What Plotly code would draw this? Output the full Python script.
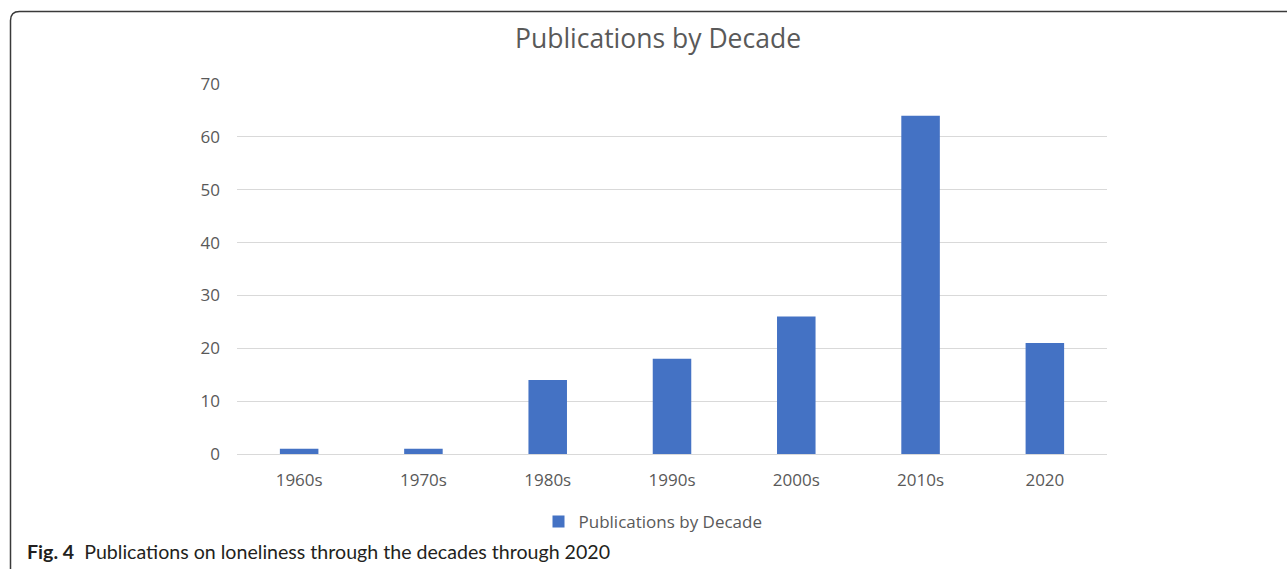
import plotly.graph_objects as go

categories = ["1960s", "1970s", "1980s", "1990s", "2000s", "2010s", "2020"]
values = [1, 1, 14, 18, 26, 64, 21]
y_ticks = [0, 10, 20, 30, 40, 50, 60, 70]

W, H = 1287, 569
L, R, T, B = 237, 1107, 84, 454
pw, ph = R - L, B - T

def px(x):
    return (x - L) / pw

def py(y):
    return (B - y) / ph

fig = go.Figure()
fig.add_trace(go.Bar(
    x=categories, y=values, name="Publications by Decade",
    marker=dict(color="#4472C4", line=dict(width=0)),
    showlegend=True,
))

# rounded border path (paper coords)
x0, y0 = px(10.5), py(11.5)
r = 9
xr = px(1300)
yb = py(590)
path = (f"M {x0},{yb} L {x0},{py(11.5 + r)} Q {x0},{y0} {px(10.5 + r)},{y0} L {xr},{y0}")

fig.update_layout(
    width=W, height=H,
    margin=dict(l=L, r=W - R, t=T, b=H - B),
    paper_bgcolor="white", plot_bgcolor="white",
    font=dict(family="Open Sans, Lato, sans-serif", color="#595959", size=17),
    title=dict(text="Publications by Decade", x=(658) / W, xanchor="center",
               y=1 - 39 / H, yanchor="middle",
               font=dict(size=26.5, color="#595959")),
    bargap=0.69,
    xaxis=dict(showgrid=False, showline=True, linecolor="#d9d9d9", linewidth=1,
               ticks="", tickfont=dict(size=17, color="#595959"),
               ticklabelstandoff=11, fixedrange=True),
    yaxis=dict(range=[0, 70], tickvals=y_ticks, showgrid=True, gridcolor="#d9d9d9",
               gridwidth=1, zeroline=False, showline=False,
               tickfont=dict(size=17, color="#595959"), ticklabelstandoff=16),
    legend=dict(orientation="h", x=px(653), xanchor="center", y=py(522), yanchor="middle",
                font=dict(size=17, color="#595959"), bgcolor="rgba(0,0,0,0)"),
    shapes=[dict(type="path", xref="paper", yref="paper", path=path,
                 line=dict(color="#3a3a3a", width=1.5))],
    annotations=[dict(
        text="<b>Fig. 4</b>  Publications on loneliness through the decades through 2020",
        xref="paper", yref="paper", x=px(25), y=py(551), xanchor="left", yanchor="middle",
        showarrow=False, font=dict(family="Lato, Noto Sans, sans-serif", size=19.6, color="#231f20"),
    )],
)

fig.write_html("out.html")
